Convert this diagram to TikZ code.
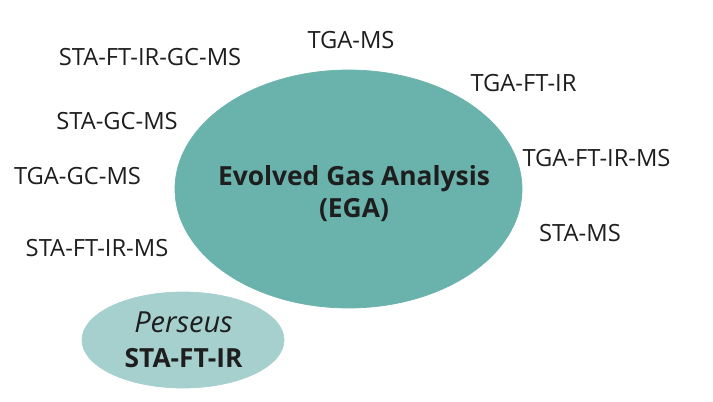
\documentclass[tikz,border=0pt]{standalone}
\usepackage{fontspec}
\setmainfont{Open Sans}
\usepackage[]{xcolor}
\definecolor{egateal}{RGB}{106,178,172}
\definecolor{perseusteal}{RGB}{166,208,206}
\definecolor{labeltext}{RGB}{30,30,30}

\begin{document}
\begin{tikzpicture}
\tikzset{every node/.style={font=\fontsize{13.5}{15}\selectfont, color=labeltext, inner sep=0pt}}
\tikzset{bigtext/.style={font=\fontsize{15}{18.2}\selectfont\bfseries, align=center}}
        \useasboundingbox (0, 0) rectangle (14.26, 8.02);

        \draw[egateal, fill=egateal] (6.97, 4.24) ellipse (3.47 and 2.38);
        \draw[perseusteal, fill=perseusteal] (3.66, 1.22) ellipse (2.02 and 0.96);

        \node (ega) at (7.08, 4.14) [bigtext] {Evolved Gas Analysis\\(EGA)};
        \node (perseus) at (3.67, 1.23) [bigtext, font=\fontsize{15}{19.9}\selectfont] {{\fontsize{16.5}{19.9}\selectfont\textit{Perseus}}\\\textbf{STA-FT-IR}};

        \node (tgams) at (7.02, 7.22) {TGA-MS};
        \node (staftirgcms) at (3.00, 6.88) {STA-FT-IR-GC-MS};
        \node (stagcms) at (2.34, 5.60) {STA-GC-MS};
        \node (tgagcms) at (1.55, 4.50) {TGA-GC-MS};
        \node (staftirms) at (1.94, 3.06) {STA-FT-IR-MS};
        \node (tgaftir) at (10.47, 6.36) {TGA-FT-IR};
        \node (tgaftirms) at (11.93, 4.86) {TGA-FT-IR-MS};
        \node (stams) at (11.60, 3.36) {STA-MS};
\end{tikzpicture}
\end{document}
